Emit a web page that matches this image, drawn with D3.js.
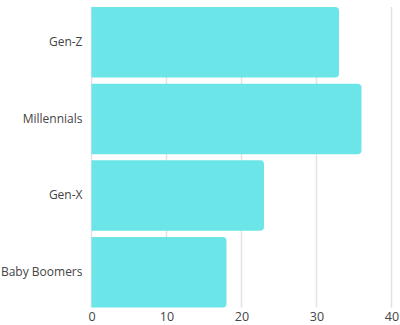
<!DOCTYPE html>
<html>
<head>
<meta charset="utf-8">
<script src="https://cdn.jsdelivr.net/npm/d3@7"></script>
<style>
  body { margin: 0; background: #fff; }
  text { font-family: "Open Sans", sans-serif; fill: #444; }
</style>
</head>
<body>
<svg id="chart" width="400" height="325"></svg>
<script>
// generations and their values
var categories = ["Gen-Z", "Millennials", "Gen-X", "Baby Boomers"];
var values = [33, 36, 23, 18];
var ticks = [0, 10, 20, 30, 40];

var svg = d3.select("#chart");

var x = d3.scaleLinear()
    .domain([0, 40])
    .range([91.5, 391.5]);

var y = d3.scaleBand()
    .domain(categories)
    .range([7, 307.5])
    .paddingInner(0.08)
    .paddingOuter(0);

// gridlines
svg.selectAll(".grid")
  .data(ticks)
  .enter()
  .append("line")
    .classed("grid", true)
    .attr("x1", function(d) { return x(d); })
    .attr("x2", function(d) { return x(d); })
    .attr("y1", 7)
    .attr("y2", 307.5)
    .attr("stroke", "#e2e2e2")
    .attr("stroke-width", 1.5);

// bars, rounded only on the right end
var r = 4;
svg.selectAll(".bar")
  .data(categories)
  .enter()
  .append("path")
    .classed("bar", true)
    .attr("fill", "#6ce5e8")
    .attr("d", function(d, i) {
      var x0 = x(0), x1 = x(values[i]),
          y0 = y(d), h = y.bandwidth();
      return "M" + x0 + "," + y0 +
        "H" + (x1 - r) +
        "Q" + x1 + "," + y0 + " " + x1 + "," + (y0 + r) +
        "V" + (y0 + h - r) +
        "Q" + x1 + "," + (y0 + h) + " " + (x1 - r) + "," + (y0 + h) +
        "H" + x0 + "Z";
    });

// x axis labels (kept just inside the bottom edge)
var xAxis = d3.axisBottom(x)
    .tickValues(ticks)
    .tickSize(0)
    .tickPadding(4.5);

svg.append("g")
    .attr("transform", "translate(0,308)")
    .call(xAxis)
    .call(function(g) { g.select(".domain").remove(); })
    .selectAll("text")
      .style("font-size", "12.5px")
      .style("font-family", "\"Open Sans\", sans-serif")
      .attr("fill", "#444");

// y axis labels
var yAxis = d3.axisLeft(y)
    .tickSize(0)
    .tickPadding(9);

svg.append("g")
    .attr("transform", "translate(91.5,0)")
    .call(yAxis)
    .call(function(g) { g.select(".domain").remove(); })
    .selectAll("text")
      .style("font-size", "12px")
      .style("font-family", "\"Open Sans\", sans-serif")
      .attr("fill", "#444");
</script>
</body>
</html>
